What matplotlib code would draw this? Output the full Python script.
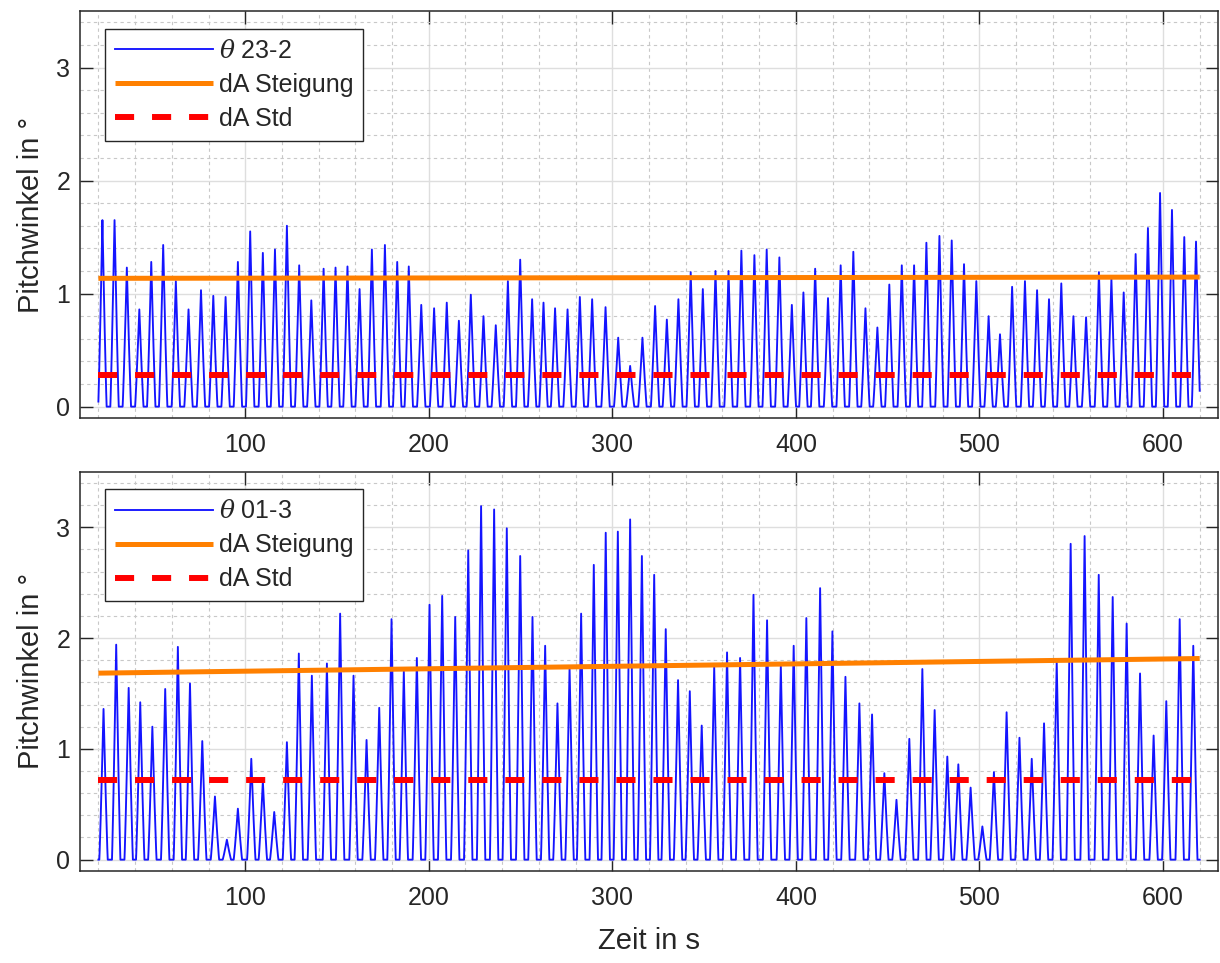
import numpy as np
import matplotlib
matplotlib.use('Agg')
import matplotlib.pyplot as plt
from matplotlib.ticker import MultipleLocator

plt.rcParams['font.family'] = ['Liberation Sans', 'DejaVu Sans']
plt.rcParams['mathtext.fontset'] = 'custom'
plt.rcParams['mathtext.it'] = 'DejaVu Serif:italic'

# --- data ----------------------------------------------------------------
# blade 23-2: time of each pitch peak (s) and its height (deg)
peak_t_23 = [22.2, 28.8, 35.5, 42.3, 48.8, 55.3, 62.2, 69.1, 75.9, 82.6,
             89.3, 96.0, 102.7, 109.6, 116.2, 122.7, 129.4, 136.0, 142.7, 149.2,
             155.7, 162.3, 169.0, 176.1, 182.8, 189.1, 195.9, 202.9, 209.8, 216.4,
             222.9, 229.8, 236.5, 243.1, 249.8, 256.3, 262.5, 268.8, 275.6, 282.3,
             289.0, 296.3, 303.2, 309.7, 316.4, 323.3, 329.7, 336.0, 342.7, 349.3,
             356.2, 363.3, 370.3, 377.4, 384.1, 391.0, 397.8, 404.1, 410.5, 417.5,
             424.4, 431.3, 437.9, 444.4, 450.9, 457.7, 464.4, 471.1, 478.2, 484.9,
             491.6, 498.3, 505.0, 511.2, 517.8, 524.8, 531.4, 537.9, 544.6, 551.2,
             558.1, 565.1, 571.9, 578.6, 585.1, 591.8, 598.4, 604.9, 611.6, 618.0]
peak_h_23 = [1.65, 1.65, 1.23, 0.86, 1.28, 1.43, 1.11, 0.86, 1.03, 0.98,
             0.97, 1.28, 1.55, 1.36, 1.39, 1.60, 1.25, 0.94, 1.22, 1.23,
             1.24, 1.04, 1.39, 1.43, 1.28, 1.24, 0.90, 0.87, 0.92, 0.76,
             0.99, 0.80, 0.72, 1.11, 1.30, 0.95, 0.92, 0.87, 0.86, 0.97,
             0.95, 0.88, 0.61, 0.36, 0.61, 0.89, 0.77, 0.95, 1.19, 1.04,
             1.20, 1.20, 1.38, 1.34, 1.39, 1.32, 0.90, 1.01, 1.22, 0.96,
             1.25, 1.37, 0.87, 0.70, 1.08, 1.25, 1.25, 1.45, 1.51, 1.47,
             1.26, 1.11, 0.80, 0.64, 1.06, 1.11, 1.03, 0.95, 1.09, 0.80,
             0.79, 1.19, 1.13, 1.01, 1.35, 1.58, 1.89, 1.74, 1.50, 1.46]

# blade 01-3
peak_t_01 = [22.8, 29.7, 36.5, 42.8, 49.4, 56.4, 63.3, 69.9, 76.6, 83.5,
             90.0, 96.0, 103.3, 109.6, 115.8, 122.7, 129.2, 136.3, 144.5, 151.7,
             159.0, 166.1, 173.0, 179.7, 186.4, 193.5, 200.4, 207.3, 214.4, 221.5,
             228.5, 235.6, 242.5, 249.8, 256.5, 263.4, 270.1, 276.7, 283.0, 289.9,
             296.4, 303.0, 309.7, 316.1, 322.8, 329.1, 335.8, 342.2, 348.7, 355.5,
             362.5, 369.6, 376.9, 384.3, 391.8, 398.8, 405.7, 413.2, 419.9, 427.0,
             434.6, 441.5, 448.2, 454.8, 461.8, 468.9, 475.6, 482.5, 488.5, 495.2,
             501.6, 507.9, 514.8, 521.8, 528.5, 535.2, 542.1, 549.7, 557.3, 565.0,
             572.6, 580.2, 587.5, 594.9, 601.8, 609.1, 616.5]
peak_h_01 = [1.36, 1.94, 1.55, 1.42, 1.20, 1.54, 1.92, 1.59, 1.07, 0.57,
             0.18, 0.46, 0.91, 0.71, 0.43, 1.06, 1.86, 1.66, 1.77, 2.22,
             1.66, 1.08, 1.37, 2.17, 1.70, 1.82, 2.30, 2.38, 2.19, 2.79,
             3.19, 3.16, 2.99, 2.74, 2.19, 1.93, 1.41, 1.73, 2.22, 2.66,
             2.95, 2.96, 3.07, 2.74, 2.57, 2.08, 1.62, 1.52, 1.21, 1.74,
             1.87, 1.82, 2.39, 2.16, 1.75, 1.93, 2.18, 2.45, 2.06, 1.65,
             1.41, 1.31, 0.78, 0.54, 1.09, 1.72, 1.35, 0.93, 0.86, 0.65,
             0.30, 0.79, 1.33, 1.10, 0.91, 1.23, 1.79, 2.85, 2.92, 2.57,
             2.37, 2.13, 1.68, 1.12, 1.43, 2.17, 1.93]

t_range = [20, 620]
steigung_23 = [1.135, 1.146]   # trend line at start / end
steigung_01 = [1.683, 1.815]
std_23 = 0.28
std_01 = 0.72

BLUE = '#1414ff'
ORANGE = '#ff8000'
RED = '#ff0000'
DARK = '#262626'


def pitch_trace(times, heights, t, half_width=2.3):
    # each blade pitch cycle drawn as a pulse around its peak
    y = np.zeros_like(t)
    for tp, h in zip(times, heights):
        u = np.clip(1 - np.abs(t - tp) / half_width, 0, None)
        y = np.maximum(y, h * u ** 1.15)
    return y


def draw_panel(ax, times, heights, trend, std, name, xlabel=False):
    t = np.linspace(t_range[0], t_range[1], 12001)
    ax.plot(t, pitch_trace(times, heights, t), color=BLUE, lw=1.35,
            label=r'$\theta$ ' + name)
    ax.plot(t_range, trend, color=ORANGE, lw=3.6, solid_capstyle='butt',
            label='dA Steigung')
    ax.plot(t_range, [std, std], color=RED, lw=4.3, ls=(0, (3.2, 3.0)),
            label='dA Std')

    ax.set_xlim(10, 630)
    ax.set_ylim(-0.1, 3.5)
    ax.set_xticks([100, 200, 300, 400, 500, 600])
    ax.set_yticks([0, 1, 2, 3])
    ax.xaxis.set_minor_locator(MultipleLocator(20))
    ax.yaxis.set_minor_locator(MultipleLocator(0.2))
    ax.set_axisbelow(True)
    ax.grid(which='major', color='#dedede', lw=1.0)
    ax.grid(which='minor', color='#c8c8c8', lw=0.8, ls=(0, (3, 3)))
    ax.tick_params(which='both', direction='in', top=True, right=True,
                   colors=DARK, labelsize=18)
    ax.tick_params(which='major', length=9, width=1)
    ax.tick_params(which='minor', length=0)
    ax.tick_params(axis='x', pad=11)
    ax.tick_params(axis='y', pad=7)
    for s in ax.spines.values():
        s.set_color(DARK)
        s.set_linewidth(1.1)

    ax.set_ylabel('Pitchwinkel in °', fontsize=21, color=DARK, labelpad=8)
    if xlabel:
        ax.set_xlabel('Zeit in s', fontsize=21, color=DARK, labelpad=12)

    leg = ax.legend(loc='upper left', bbox_to_anchor=(0.022, 0.956),
                    borderaxespad=0, fontsize=18, handlelength=3.9,
                    labelspacing=0.4, fancybox=False, framealpha=1,
                    edgecolor=DARK, borderpad=0.4, handletextpad=0.25)
    leg.get_frame().set_linewidth(1.0)
    for txt in leg.get_texts():
        txt.set_color(DARK)


fig = plt.figure(figsize=(12.2, 9.63), dpi=100)
ax1 = fig.add_axes([0.0656, 0.566, 0.9328, 0.4226])
ax2 = fig.add_axes([0.0656, 0.0958, 0.9328, 0.4143])

draw_panel(ax1, peak_t_23, peak_h_23, steigung_23, std_23, '23-2')
draw_panel(ax2, peak_t_01, peak_h_01, steigung_01, std_01, '01-3', xlabel=True)

fig.savefig('out.png', dpi=100)
